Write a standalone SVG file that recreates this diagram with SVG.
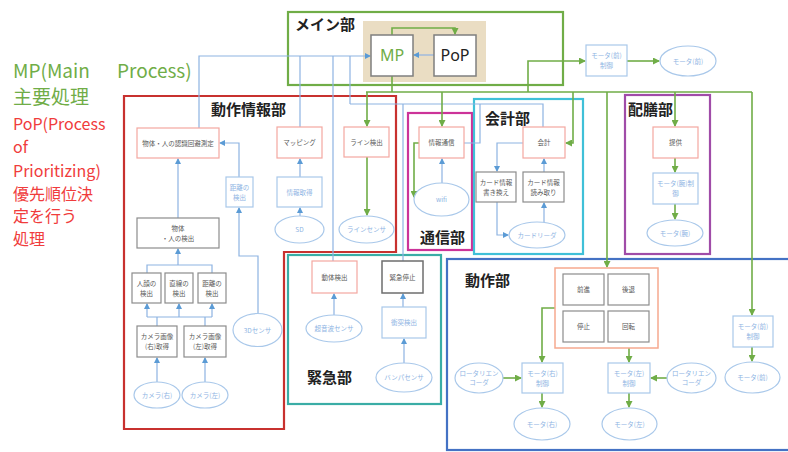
<svg xmlns="http://www.w3.org/2000/svg" width="788" height="452" viewBox="0 0 788 452">
<style>
.sec{fill:none;stroke-width:2.2}
.bp{fill:#fff;stroke:#F4A7A0;stroke-width:1.2}
.bg{fill:#fff;stroke:#8C8C8C;stroke-width:1.2}
.bk{fill:#fff;stroke:#6E6E6E;stroke-width:1.5}
.bb{fill:#fff;stroke:#A9C8EA;stroke-width:1.2}
.bo{fill:#fff;stroke:#F6A98F;stroke-width:1.5}
.el{fill:#fff;stroke:#A9C8EA;stroke-width:1.2}
.cb{fill:none;stroke:#8DB3E2;stroke-width:1.2}
.cg{fill:none;stroke:#70AD47;stroke-width:1.6}
.ab{marker-end:url(#mb)}
.ag{marker-end:url(#mg)}
.t{font-family:"Noto Sans CJK JP","Noto Sans",sans-serif;font-size:6.5px;fill:#595959;text-anchor:middle}
.tb{font-family:"Noto Sans CJK JP","Noto Sans",sans-serif;font-size:6.5px;fill:#8EB4E3;text-anchor:middle}
.ti{font-family:"Noto Sans CJK JP","Noto Sans",sans-serif;font-size:15px;font-weight:bold;fill:#222}
.lg{font-family:"Noto Sans CJK JP","Noto Sans",sans-serif;font-size:19px;fill:#70AD47}
.lr{font-family:"Noto Sans CJK JP","Noto Sans",sans-serif;font-size:16px;fill:#F03C3C}
</style>
<defs>
<marker id="mb" markerUnits="userSpaceOnUse" markerWidth="6" markerHeight="6" refX="5" refY="3" orient="auto"><path d="M0,0 L6,3 L0,6 z" fill="#5B9BD5"/></marker>
<marker id="mg" markerUnits="userSpaceOnUse" markerWidth="7" markerHeight="7" refX="6" refY="3.5" orient="auto"><path d="M0,0 L7,3.5 L0,7 z" fill="#70AD47"/></marker>
</defs>
<rect width="788" height="452" fill="#fff"/>

<g id="legend">
<text class="lg" x="13" y="78">MP(Main</text>
<text class="lg" x="117" y="78">Process)</text>
<text class="lg" x="13" y="104">主要処理</text>
<text class="lr" x="13" y="130">PoP(Process</text>
<text class="lr" x="13" y="153">of</text>
<text class="lr" x="13" y="177">Prioritizing)</text>
<text class="lr" x="13" y="200">優先順位決</text>
<text class="lr" x="13" y="222">定を行う</text>
<text class="lr" x="13" y="245">処理</text>
</g>

<g id="sections">
<rect id="sec-main" class="sec" x="288" y="12" width="275" height="73" stroke="#70AD47"/>
<rect x="363" y="21" width="123" height="61" fill="#EADDC3"/>
<text class="ti" x="295" y="30" font-size="13">メイン部</text>
<polygon id="sec-info" class="sec" points="124,96 396,96 396,252 284,252 284,429 124,429" stroke="#C8312F" stroke-width="2.5"/>
<text class="ti" x="211" y="115">動作情報部</text>
<rect id="sec-comm" class="sec" x="408" y="113" width="64" height="137" stroke="#CC3399" stroke-width="2.5"/>
<text class="ti" x="420" y="243">通信部</text>
<rect id="sec-acct" class="sec" x="474" y="99" width="109" height="155" stroke="#3FC0D8" stroke-width="2.5"/>
<text class="ti" x="485" y="124">会計部</text>
<rect id="sec-serve" class="sec" x="625" y="95" width="85" height="159" stroke="#A04CA8" stroke-width="2.5"/>
<text class="ti" x="628" y="115">配膳部</text>
<rect id="sec-emg" class="sec" x="288" y="255" width="153" height="149" stroke="#3AADA6" stroke-width="2.5"/>
<text class="ti" x="307" y="383">緊急部</text>
<rect id="sec-drive" class="sec" x="447" y="259" width="345" height="191" stroke="#4472C4"/>
<text class="ti" x="465" y="286">動作部</text>
</g>

<g id="connectors">
<path class="cb ab" d="M199,128 V56 H370"/>
<path class="cb" d="M300,127 V56"/>
<path class="cb" d="M333,261 V56"/>
<path class="cb" d="M350,104 V56"/>
<path class="cb" d="M543,127 V104 H350"/>
<path class="cb" d="M464,143 H480 V104"/>
<path class="cb" d="M403,261 V104"/>
<path class="cb ab" d="M434,55 H414"/>
<path class="cb ab" d="M178,218 V159"/>
<path class="cb ab" d="M239,177 V143 H220"/>
<path class="cb ab" d="M258,313 V256 H239 V208"/>
<path class="cb" d="M147,273 V265 H212 V273"/>
<path class="cb ab" d="M178,265 V249"/>
<path class="cb" d="M157,326 V317 M205,326 V317 M147,317 H212"/>
<path class="cb ab" d="M147,317 V304"/>
<path class="cb ab" d="M179,317 V304"/>
<path class="cb ab" d="M212,317 V304"/>
<path class="cb ab" d="M157,382 V358"/>
<path class="cb ab" d="M205,382 V358"/>
<path class="cb ab" d="M300,216 V208"/>
<path class="cb ab" d="M300,177 V159"/>
<path class="cb ab" d="M442,183 V159"/>
<path class="cb ab" d="M523,143 H497 V171"/>
<path class="cb ab" d="M497,202 V235 H508"/>
<path class="cb ab" d="M544,222 V203"/>
<path class="cb ab" d="M544,172 V159"/>
<path class="cb ab" d="M334,315 V294"/>
<path class="cb ab" d="M403,307 V294"/>
<path class="cb ab" d="M404,363 V339"/>

<path class="cg ag" d="M392,35 V28 H455 V34"/>
<path class="cg" d="M392,76 V92 M366,92 H752"/>
<path class="cg ag" d="M367,92 V126"/>
<path class="cg ag" d="M442,92 V126"/>
<path class="cg ag" d="M528,92 V61 H585"/>
<path class="cg ag" d="M573,92 V143 H566"/>
<path class="cg ag" d="M607,92 V267"/>
<path class="cg ag" d="M675,92 V126"/>
<path class="cg ag" d="M752,92 V315"/>
<path class="cg ag" d="M367,157 V215"/>
<path class="cg ag" d="M419,143 H414 V197"/>
<path class="cg ag" d="M627,61 H659"/>
<path class="cg ag" d="M675,158 V172"/>
<path class="cg ag" d="M675,204 V219"/>
<path class="cg ag" d="M555,308 H542 V362"/>
<path class="cg ag" d="M629,348 V362"/>
<path class="cg ag" d="M503,378 H521"/>
<path class="cg ag" d="M667,378 H651"/>
<path class="cg ag" d="M542,393 V407"/>
<path class="cg ag" d="M629,393 V407"/>
<path class="cg ag" d="M752,347 V361"/>
</g>

<g id="n-mp"><rect x="371" y="35" width="42" height="41" fill="#fff" stroke="#7F7F7F" stroke-width="1.5"/><text x="392" y="61" font-family="Noto Sans, sans-serif" font-size="16" fill="#70AD47" text-anchor="middle">MP</text></g>
<g id="n-pop"><rect x="434" y="35" width="42" height="41" fill="#fff" stroke="#7F7F7F" stroke-width="1.5"/><text x="455" y="61" font-family="Noto Sans, sans-serif" font-size="16" fill="#222" text-anchor="middle">PoP</text></g>

<g id="n-recog"><rect class="bp" x="137" y="128" width="82" height="30"/><text class="t" x="178" y="145.5">物体・人の認識回避測定</text></g>
<g id="n-dist1"><rect class="bb" x="226" y="177" width="27" height="30"/><text class="tb" x="239.5" y="190">距離の</text><text class="tb" x="239.5" y="200">検出</text></g>
<g id="n-objdet"><rect class="bg" x="137" y="218" width="82" height="30"/><text class="t" x="178" y="231">物体</text><text class="t" x="178" y="241">・人の検出</text></g>
<g id="n-face"><rect class="bg" x="132" y="273" width="29" height="30"/><text class="t" x="146.5" y="286">人顔の</text><text class="t" x="146.5" y="296">検出</text></g>
<g id="n-line"><rect class="bg" x="165" y="273" width="28" height="30"/><text class="t" x="179" y="286">直線の</text><text class="t" x="179" y="296">検出</text></g>
<g id="n-dist2"><rect class="bg" x="198" y="273" width="28" height="30"/><text class="t" x="212" y="286">距離の</text><text class="t" x="212" y="296">検出</text></g>
<g id="n-camR"><rect class="bg" x="137" y="326" width="40" height="31"/><text class="t" x="157" y="339">カメラ画像</text><text class="t" x="157" y="349">(右)取得</text></g>
<g id="n-camL"><rect class="bg" x="184" y="326" width="42" height="31"/><text class="t" x="205" y="339">カメラ画像</text><text class="t" x="205" y="349">(左)取得</text></g>
<g id="e-camR"><ellipse class="el" cx="157" cy="395" rx="23" ry="13"/><text class="tb" x="157" y="397.5">カメラ(右)</text></g>
<g id="e-camL"><ellipse class="el" cx="205" cy="395" rx="23" ry="13"/><text class="tb" x="205" y="397.5">カメラ(左)</text></g>
<g id="e-3d"><ellipse class="el" cx="257.5" cy="330" rx="24.5" ry="16.5"/><text class="tb" x="257.5" y="332.5">3Dセンサ</text></g>
<g id="n-map"><rect class="bp" x="277" y="127" width="45" height="31"/><text class="t" x="299.5" y="145">マッピング</text></g>
<g id="n-info"><rect class="bb" x="277" y="177" width="45" height="30"/><text class="tb" x="299.5" y="194.5">情報取得</text></g>
<g id="e-sd"><ellipse class="el" cx="299.5" cy="229.5" rx="24.5" ry="13.5"/><text class="tb" x="299.5" y="232">SD</text></g>
<g id="n-linedet"><rect class="bp" x="344" y="127" width="45" height="30"/><text class="t" x="366.5" y="144.5">ライン検出</text></g>
<g id="e-linesensor"><ellipse class="el" cx="366.5" cy="229.5" rx="27.5" ry="13.5"/><text class="tb" x="366.5" y="232">ラインセンサ</text></g>
<g id="n-comm"><rect class="bp" x="419" y="127" width="45" height="31"/><text class="t" x="441.5" y="145">情報通信</text></g>
<g id="e-wifi"><ellipse class="el" cx="441.5" cy="199.5" rx="27.5" ry="16.5"/><text class="tb" x="441.5" y="202">wifi</text></g>
<g id="n-acct"><rect class="bp" x="523" y="127" width="42" height="31"/><text class="t" x="544" y="145">会計</text></g>
<g id="n-cardw"><rect class="bg" x="476" y="172" width="40" height="30"/><text class="t" x="496" y="185">カード情報</text><text class="t" x="496" y="195">書き換え</text></g>
<g id="n-cardr"><rect class="bg" x="523" y="172" width="41" height="30"/><text class="t" x="543.5" y="185">カード情報</text><text class="t" x="543.5" y="195">読み取り</text></g>
<g id="e-reader"><ellipse class="el" cx="537" cy="235" rx="28" ry="13"/><text class="tb" x="537" y="237.5">カードリーダ</text></g>
<g id="n-serve"><rect class="bp" x="653" y="127" width="45" height="31"/><text class="t" x="675.5" y="145">提供</text></g>
<g id="n-armctl"><rect class="bb" x="653" y="173" width="45" height="31"/><text class="tb" x="675.5" y="186">モータ(腕)制</text><text class="tb" x="675.5" y="196">御</text></g>
<g id="e-arm"><ellipse class="el" cx="675" cy="233" rx="28" ry="13"/><text class="tb" x="675" y="235.5">モータ(腕)</text></g>
<g id="n-motion"><rect class="bp" x="312" y="261" width="45" height="32"/><text class="t" x="334.5" y="279.5">動体検出</text></g>
<g id="e-ultra"><ellipse class="el" cx="334" cy="328.5" rx="28" ry="13.5"/><text class="tb" x="334" y="331">超音波センサ</text></g>
<g id="n-estop"><rect class="bk" x="382" y="261" width="41" height="32"/><text class="t" x="402.5" y="279.5">緊急停止</text></g>
<g id="n-collide"><rect class="bb" x="382" y="307" width="44" height="31"/><text class="tb" x="404" y="325">衝突検出</text></g>
<g id="e-bumper"><ellipse class="el" cx="404" cy="377.5" rx="28" ry="14.5"/><text class="tb" x="404" y="380">バンパセンサ</text></g>
<g id="n-drive"><rect class="bo" x="555" y="268" width="103" height="80"/>
<rect class="bg" x="563" y="274" width="41" height="31"/><text class="t" x="583.5" y="292">前進</text>
<rect class="bg" x="608" y="274" width="41" height="31"/><text class="t" x="628.5" y="292">後退</text>
<rect class="bg" x="563" y="311" width="41" height="31"/><text class="t" x="583.5" y="329">停止</text>
<rect class="bg" x="608" y="311" width="41" height="31"/><text class="t" x="628.5" y="329">回転</text></g>
<g id="n-motRctl"><rect class="bb" x="522" y="363" width="41" height="30"/><text class="tb" x="542.5" y="376">モータ(右)</text><text class="tb" x="542.5" y="386">制御</text></g>
<g id="n-motLctl"><rect class="bb" x="608" y="363" width="42" height="30"/><text class="tb" x="629" y="376">モータ(左)</text><text class="tb" x="629" y="386">制御</text></g>
<g id="e-encL"><ellipse class="el" cx="479" cy="378" rx="24" ry="15"/><text class="tb" x="479" y="376">ロータリエン</text><text class="tb" x="479" y="385">コーダ</text></g>
<g id="e-encR"><ellipse class="el" cx="691.5" cy="378" rx="24.5" ry="15"/><text class="tb" x="691.5" y="376">ロータリエン</text><text class="tb" x="691.5" y="385">コーダ</text></g>
<g id="e-motR"><ellipse class="el" cx="542" cy="424" rx="28" ry="16"/><text class="tb" x="542" y="426.5">モータ(右)</text></g>
<g id="e-motL"><ellipse class="el" cx="629.5" cy="424" rx="27.5" ry="16"/><text class="tb" x="629.5" y="426.5">モータ(左)</text></g>
<g id="n-frontctl"><rect class="bb" x="733" y="316" width="40" height="31"/><text class="tb" x="753" y="329" fill="#6F9BD8">モータ(前)</text><text class="tb" x="753" y="339" fill="#6F9BD8">制御</text></g>
<g id="e-front"><ellipse class="el" cx="752.5" cy="377.5" rx="27.5" ry="15.5"/><text class="tb" x="752.5" y="380" fill="#6F9BD8">モータ(前)</text></g>
<g id="n-topctl"><rect class="bb" x="586" y="45" width="41" height="31"/><text class="tb" x="606.5" y="58">モータ(前)</text><text class="tb" x="606.5" y="68">制御</text></g>
<g id="e-top"><ellipse class="el" cx="688" cy="61" rx="28" ry="15"/><text class="tb" x="688" y="63.5">モータ(前)</text></g>
</svg>
